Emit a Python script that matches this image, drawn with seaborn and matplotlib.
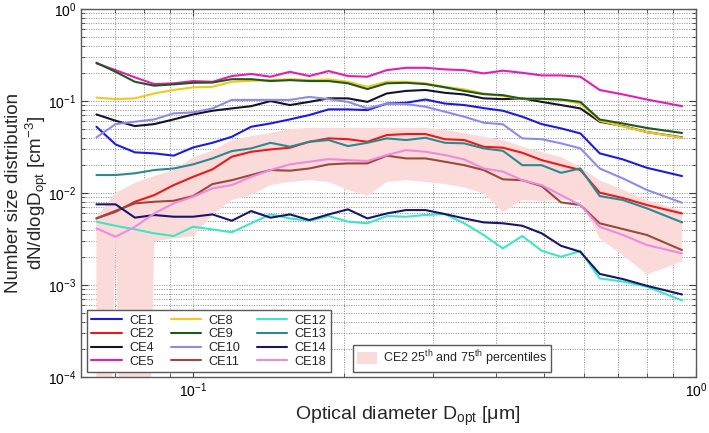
import matplotlib
matplotlib.use("Agg")
import matplotlib.pyplot as plt
import matplotlib.ticker as mticker
from matplotlib.lines import Line2D
from matplotlib.patches import Patch
import pandas as pd
import seaborn as sns

# optical diameter bins [um]
diameter = [0.0644, 0.0703, 0.0768, 0.0839, 0.0917, 0.1002, 0.1095, 0.1196, 0.1307, 0.1428,
            0.1560, 0.1705, 0.1863, 0.2035, 0.2224, 0.2430, 0.2655, 0.2901, 0.3170, 0.3463,
            0.3784, 0.4134, 0.4517, 0.4935, 0.5392, 0.5891, 0.6437, 0.716, 0.799, 0.938]

ce1 = [0.0526, 0.0338, 0.0277, 0.0270, 0.0255, 0.0313, 0.0352, 0.0409, 0.0526, 0.0571,
       0.0632, 0.0705, 0.0812, 0.0812, 0.0798, 0.094, 0.0959, 0.104, 0.094, 0.0905,
       0.0839, 0.0785, 0.0676, 0.0562, 0.0505, 0.0445, 0.0270, 0.0232, 0.0188, 0.0153]
ce2 = [0.0053, 0.00626, 0.00804, 0.0095, 0.0122, 0.0150, 0.0181, 0.0248, 0.0281, 0.0298,
       0.0311, 0.0361, 0.0393, 0.0385, 0.0361, 0.0427, 0.0438, 0.0438, 0.0385, 0.0377,
       0.0319, 0.0311, 0.0274, 0.0228, 0.0201, 0.0178, 0.0101, 0.00883, 0.00741, 0.0060]
ce4 = [0.0716, 0.0611, 0.0535, 0.0562, 0.0632, 0.0716, 0.0785, 0.0832, 0.088, 0.100,
       0.0905, 0.098, 0.107, 0.107, 0.098, 0.121, 0.129, 0.132, 0.123, 0.118,
       0.107, 0.105, 0.107, 0.098, 0.0905, 0.0832, 0.0596, 0.0535, 0.046, 0.0403]
ce5 = [0.257, 0.217, 0.181, 0.153, 0.156, 0.165, 0.162, 0.187, 0.197, 0.184,
       0.208, 0.187, 0.212, 0.187, 0.184, 0.217, 0.230, 0.230, 0.221, 0.217,
       0.200, 0.214, 0.203, 0.190, 0.190, 0.184, 0.132, 0.118, 0.104, 0.088]
ce8 = [0.109, 0.105, 0.107, 0.121, 0.132, 0.141, 0.143, 0.162, 0.166, 0.169,
       0.173, 0.169, 0.172, 0.162, 0.143, 0.162, 0.162, 0.156, 0.143, 0.134,
       0.121, 0.113, 0.106, 0.105, 0.103, 0.094, 0.061, 0.053, 0.046, 0.040]
ce9 = [0.261, 0.208, 0.162, 0.147, 0.152, 0.158, 0.159, 0.173, 0.173, 0.165,
       0.169, 0.165, 0.165, 0.156, 0.135, 0.156, 0.158, 0.153, 0.141, 0.129,
       0.119, 0.116, 0.106, 0.106, 0.104, 0.098, 0.063, 0.057, 0.051, 0.045]
ce10 = [0.0403, 0.0562, 0.0596, 0.0632, 0.0735, 0.0754, 0.0832, 0.103, 0.103, 0.103,
        0.103, 0.111, 0.105, 0.098, 0.0832, 0.094, 0.0928, 0.0867, 0.0766, 0.0676,
        0.0582, 0.0559, 0.0393, 0.0385, 0.0347, 0.0306, 0.0185, 0.0144, 0.0108, 0.00785]
ce11 = [0.0053, 0.00642, 0.00773, 0.00804, 0.00824, 0.00927, 0.01253, 0.0138, 0.0157, 0.0178,
        0.0175, 0.0185, 0.0205, 0.0210, 0.0210, 0.0255, 0.0238, 0.0238, 0.0219, 0.0201,
        0.0178, 0.0141, 0.0138, 0.0119, 0.00792, 0.00741, 0.00469, 0.00406, 0.0035, 0.0024]
ce12 = [0.00488, 0.00441, 0.00403, 0.00365, 0.00341, 0.0043, 0.00403, 0.00374, 0.00469, 0.00586,
        0.0053, 0.0050, 0.00562, 0.00488, 0.00469, 0.00562, 0.00553, 0.00577, 0.00591, 0.00469,
        0.0035, 0.0025, 0.00341, 0.00236, 0.00203, 0.00234, 0.00118, 0.00109, 0.00096, 0.00068]
ce13 = [0.0157, 0.0157, 0.0164, 0.0178, 0.0185, 0.0205, 0.0238, 0.0286, 0.0306, 0.0352,
        0.0319, 0.0361, 0.0377, 0.0324, 0.0352, 0.0393, 0.0377, 0.0399, 0.0352, 0.0347,
        0.0306, 0.0288, 0.0201, 0.0201, 0.0166, 0.0185, 0.00927, 0.0084, 0.00682, 0.0048]
ce14 = [0.00754, 0.00754, 0.0054, 0.00577, 0.00553, 0.00553, 0.00586, 0.0050, 0.00637, 0.0054,
        0.00586, 0.00509, 0.00586, 0.00665, 0.0053, 0.0060, 0.00653, 0.00653, 0.00591, 0.0053,
        0.0048, 0.00469, 0.00441, 0.00365, 0.00267, 0.0023, 0.00132, 0.00116, 0.00098, 0.00079]
ce18 = [0.00413, 0.00335, 0.0043, 0.0060, 0.00773, 0.00912, 0.01125, 0.0122, 0.0150, 0.0178,
        0.0205, 0.0219, 0.0234, 0.0228, 0.0223, 0.0259, 0.0293, 0.0281, 0.0259, 0.0232,
        0.0185, 0.0171, 0.0138, 0.0122, 0.0095, 0.00741, 0.0043, 0.0035, 0.00272, 0.00221]

# CE2 percentile band (1e-12 = below the axis)
ce2_p25 = [1e-12, 0.0034, 1e-12, 0.0030, 0.0032, 0.0034, 0.0058, 0.0084, 0.0095, 0.0122,
           0.0132, 0.0138, 0.0132, 0.0108, 0.0093, 0.0132, 0.0138, 0.0132, 0.0125, 0.0115,
           0.0099, 0.0062, 0.0084, 0.0082, 0.0084, 0.0084, 0.0032, 0.0021, 0.0013, 0.0018]
ce2_p75 = [0.0055, 0.0100, 0.0129, 0.0153, 0.0178, 0.0245, 0.029, 0.0376, 0.0415, 0.045,
           0.0497, 0.051, 0.051, 0.051, 0.051, 0.051, 0.051, 0.051, 0.0484, 0.0449,
           0.0409, 0.0377, 0.0319, 0.0279, 0.0246, 0.0192, 0.0138, 0.0108, 0.0084, 0.0064]

cases = ["CE1", "CE2", "CE4", "CE5", "CE8", "CE9", "CE10", "CE11", "CE12", "CE13", "CE14", "CE18"]
series = [ce1, ce2, ce4, ce5, ce8, ce9, ce10, ce11, ce12, ce13, ce14, ce18]
line_colors = ["#1c1ce0", "#e81a1a", "#141428", "#e21fb0", "#f2c81e", "#1e5a1e",
               "#8c8ce8", "#9a4a3c", "#3ee6c4", "#2a8a90", "#16166c", "#ee8ae0"]
band_color = "#fbdada"

rows = []
for name, vals in zip(cases, series):
    for d, v in zip(diameter, vals):
        rows.append({"case": name, "diameter": d, "dndlogd": v})
df = pd.DataFrame(rows)

sns.set_theme(style="ticks")
plt.rcParams["font.family"] = ["Liberation Sans", "DejaVu Sans"]
plt.rcParams["mathtext.default"] = "regular"

fig = plt.figure(figsize=(7.09, 4.33), dpi=100)
ax = fig.add_axes([0.1142, 0.1293, 0.8675, 0.8497])

ax.fill_between(diameter, ce2_p25, ce2_p75, color=band_color, linewidth=0, zorder=1)

sns.lineplot(data=df, x="diameter", y="dndlogd", hue="case", hue_order=cases,
             palette=line_colors, linewidth=1.5, estimator=None, sort=False,
             legend=False, ax=ax, zorder=3)

ax.set_xscale("log")
ax.set_yscale("log")
ax.set_xlim(0.06, 1)
ax.set_ylim(1e-4, 1)

ax.xaxis.set_minor_locator(mticker.LogLocator(base=10, subs=range(2, 10)))
ax.yaxis.set_minor_locator(mticker.LogLocator(base=10, subs=range(2, 10)))
ax.xaxis.set_minor_formatter(mticker.NullFormatter())
ax.yaxis.set_minor_formatter(mticker.NullFormatter())

ax.grid(True, which="both", linestyle=(0, (1, 1.5)), color="0.55", linewidth=0.7, zorder=0)
ax.set_axisbelow(True)

ax.tick_params(which="both", direction="in", top=True, right=True, colors="0.25",
               labelcolor="black", labelsize=10)
ax.tick_params(which="major", length=5, width=0.8)
ax.tick_params(which="minor", length=3, width=0.6)
for sp in ax.spines.values():
    sp.set_color("0.35")
    sp.set_linewidth(1.0)

ax.set_xlabel("Optical diameter D$_{opt}$ [\u03bcm]", fontsize=14)
ax.xaxis.set_label_coords(0.532, -0.075)
ax.set_ylabel("Number size distribution\ndN/dlogD$_{opt}$ [cm$^{-3}$]", fontsize=13.5,
              linespacing=1.1)
ax.yaxis.set_label_coords(-0.05, 0.5)

handles = [Line2D([0], [0], color=c, linewidth=1.5) for c in line_colors]
leg1 = ax.legend(handles, cases, ncol=3, loc="lower left", bbox_to_anchor=(0.0098, 0.0136),
                 borderaxespad=0, fontsize=9.2, frameon=True, fancybox=False, framealpha=1,
                 edgecolor="0.35", labelspacing=0.12, handlelength=2.4, handletextpad=0.55,
                 columnspacing=1.3, borderpad=0.35)
leg1.get_frame().set_linewidth(1.0)
ax.add_artist(leg1)

leg2 = ax.legend([Patch(facecolor=band_color, edgecolor="none")],
                 ["CE2 25$^{th}$ and 75$^{th}$ percentiles"],
                 loc="lower left", bbox_to_anchor=(0.442, 0.0136), borderaxespad=0,
                 fontsize=9.0, frameon=True, fancybox=False, framealpha=1, edgecolor="0.35",
                 handlelength=1.6, handleheight=1.1, handletextpad=0.5, borderpad=0.3)
leg2.get_frame().set_linewidth(1.0)

fig.savefig("out.png", dpi=100)
